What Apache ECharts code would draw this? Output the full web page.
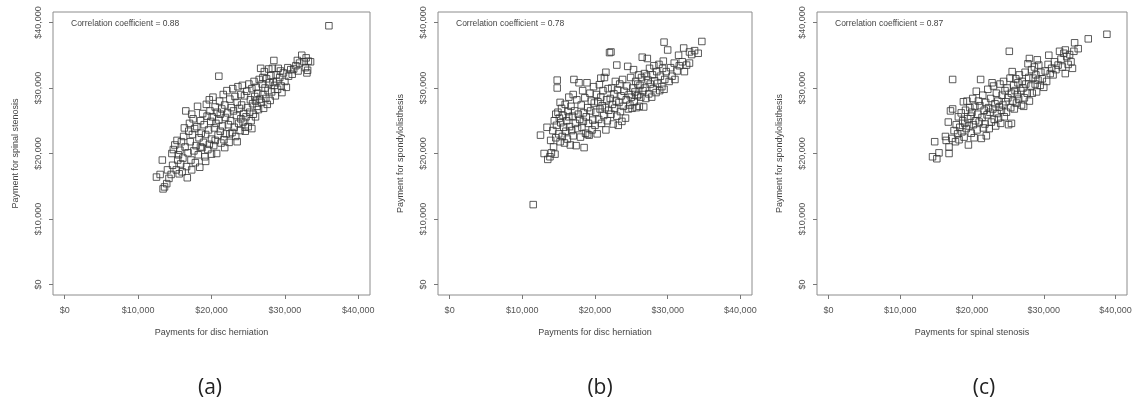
<!DOCTYPE html>
<html>
<head>
<meta charset="utf-8">
<script src="https://cdn.jsdelivr.net/npm/echarts@6/dist/echarts.min.js"></script>
<style>
  html, body { margin: 0; padding: 0; background: #fff; }
  #main { width: 1137px; height: 409px; }
</style>
</head>
<body>
<div id="main"></div>
<script>
// values in $ thousands
var tickValues = [0, 10, 20, 30, 40];
var panelLabels = ['(a)', '(b)', '(c)'];
var xTitles = ['Payments for disc herniation', 'Payments for disc herniation', 'Payments for spinal stenosis'];
var yTitles = ['Payment for spinal stenosis', 'Payment for spondylolisthesis', 'Payment for spondylolisthesis'];
var corrTexts = ['Correlation coefficient = 0.88', 'Correlation coefficient = 0.78', 'Correlation coefficient = 0.87'];

// (a) disc herniation vs spinal stenosis
var pointsA = [
  [12.5,16.4],[13.0,16.8],[13.4,14.6],[13.6,14.9],[13.3,19.0],[13.9,15.4],[14.2,16.2],[14.0,17.5],
  [14.5,16.8],[14.7,18.2],[14.8,20.6],[15.0,21.3],[15.2,17.5],[15.4,19.0],[15.5,19.8],[15.6,16.9],[15.8,18.4],[15.9,21.8],[15.3,22.0],[14.6,20.0],[15.7,20.5],
  [16.0,17.2],[16.1,19.3],[16.2,22.6],[16.4,21.0],[16.5,26.5],[16.6,18.0],[16.7,16.3],[16.8,20.1],[16.9,23.4],[17.0,24.6],[17.1,21.8],[17.2,19.0],[17.3,17.5],[17.4,22.9],[17.5,25.3],[17.6,20.4],[17.7,23.8],[17.8,18.6],[17.9,21.2],[18.0,24.1],[17.3,26.0],[16.3,23.9],
  [18.1,27.2],[18.2,19.8],[18.3,22.4],[18.4,17.9],[18.5,25.0],[18.6,23.1],[18.7,20.9],[18.8,26.1],[18.9,21.7],[19.0,24.4],[19.1,19.5],[19.2,22.9],[19.3,27.5],[19.4,25.7],[19.5,20.6],[19.6,23.6],[19.7,21.4],[19.8,26.5],[19.9,24.9],[20.0,22.2],[19.2,18.8],[18.5,21.0],[19.7,28.2],[20.0,19.9],
  [20.1,25.6],[20.2,28.6],[20.3,21.2],[20.4,23.9],[20.5,27.1],[20.6,24.6],[20.7,20.0],[20.8,26.3],[20.9,22.8],[21.0,31.8],[21.0,25.1],[21.1,28.0],[21.2,23.4],[21.3,21.6],[21.4,26.8],[21.5,24.2],[21.6,29.0],[21.7,22.1],[21.8,27.4],[21.9,25.5],[22.0,23.0],[21.2,26.0],[20.5,22.0],[21.8,20.9],
  [22.1,29.6],[22.2,26.2],[22.3,24.4],[22.4,21.7],[22.5,28.3],[22.6,25.0],[22.7,27.0],[22.8,23.2],[22.9,29.9],[23.0,26.5],[23.1,24.0],[23.2,28.7],[23.3,22.6],[23.4,25.8],[23.5,27.8],[23.6,30.2],[23.7,24.6],[23.8,26.9],[23.9,23.5],[24.0,29.0],[22.5,23.0],[23.5,21.8],[24.0,25.3],
  [24.1,27.4],[24.2,30.4],[24.3,24.8],[24.4,26.1],[24.5,28.8],[24.6,23.4],[24.7,25.6],[24.8,29.5],[24.9,27.0],[25.0,24.1],[25.1,30.6],[25.2,26.3],[25.3,28.2],[25.4,25.0],[25.5,29.9],[25.6,27.6],[25.7,26.0],[25.8,31.0],[25.9,28.7],[26.0,25.6],[24.6,24.0],[25.5,23.8],
  [26.1,30.1],[26.2,27.2],[26.3,29.2],[26.4,26.7],[26.5,31.3],[26.6,28.3],[26.7,33.0],[26.8,27.8],[26.9,30.6],[27.0,29.0],[27.1,26.9],[27.2,32.5],[27.3,30.0],[27.4,28.4],[27.5,31.4],[27.6,27.5],[27.7,29.6],[27.8,32.9],[27.9,30.8],[28.0,28.1],[26.0,28.0],[27.0,31.6],
  [28.1,31.9],[28.2,29.4],[28.3,33.0],[28.5,34.2],[28.6,30.4],[28.7,28.8],[28.8,32.0],[28.9,31.0],[29.0,29.8],[29.1,33.0],[29.3,31.6],[29.5,30.3],[29.6,29.3],[29.8,32.3],[30.0,31.0],[29.4,32.6],[28.4,30.9],
  [30.2,30.1],[30.5,31.8],[30.8,32.8],[31.0,32.1],[31.2,32.9],[31.5,33.4],[31.8,32.6],[32.0,33.8],[32.3,35.0],[32.6,34.0],[32.8,33.1],[33.0,32.3],[33.2,34.1],[33.5,34.0],[32.9,34.6],[33.1,32.7],[31.7,34.2],[30.4,33.1],
  [36.0,39.5]
];

// (b) disc herniation vs spondylolisthesis
var pointsB = [
  [11.5,12.2],[12.5,22.8],[13.0,20.0],[13.5,19.1],[13.8,19.5],[14.0,20.1],[13.4,24.0],[13.9,22.0],[14.5,19.9],[14.3,21.0],
  [14.2,23.5],[14.4,25.0],[14.6,22.4],[14.7,24.3],[14.8,31.2],[14.8,30.0],[14.9,26.3],[15.0,23.0],[15.1,25.4],[15.2,21.8],[15.3,24.7],[15.4,26.9],[15.5,22.6],[15.6,25.8],[15.7,24.0],[15.8,21.6],[15.9,27.5],[16.0,23.4],[15.2,27.8],[14.6,26.0],
  [16.1,25.0],[16.2,22.2],[16.3,26.4],[16.4,28.6],[16.5,24.1],[16.6,21.3],[16.7,27.2],[16.8,23.5],[16.9,25.7],[17.0,22.7],[17.1,31.3],[17.2,26.5],[17.3,24.6],[17.4,21.2],[17.5,28.2],[17.6,23.8],[17.7,26.0],[17.8,30.8],[17.9,25.2],[18.0,22.5],[17.0,29.0],[16.4,25.6],
  [18.1,27.4],[18.2,24.0],[18.3,29.6],[18.4,26.2],[18.5,20.9],[18.6,28.5],[18.7,23.1],[18.8,25.6],[18.9,30.8],[19.0,27.0],[19.1,24.6],[19.2,22.8],[19.3,29.2],[19.4,26.5],[19.5,28.0],[19.6,23.6],[19.7,25.1],[19.8,30.2],[19.9,27.7],[20.0,24.3],[19.0,22.9],[18.4,24.9],
  [20.1,26.3],[20.2,29.0],[20.3,23.0],[20.4,27.9],[20.5,25.2],[20.6,30.5],[20.7,26.8],[20.8,28.6],[20.9,24.6],[21.0,27.3],[21.1,29.6],[21.2,25.8],[21.3,31.6],[21.4,27.0],[21.5,32.4],[21.6,28.2],[21.7,25.0],[21.8,29.9],[21.9,26.6],[22.0,35.4],[22.2,35.5],[20.8,31.5],[21.5,23.6],
  [22.1,28.4],[22.2,26.0],[22.3,30.0],[22.4,27.5],[22.5,24.5],[22.6,29.1],[22.7,26.9],[22.8,31.0],[22.9,28.0],[23.0,33.5],[23.0,25.7],[23.1,29.7],[23.2,24.3],[23.3,27.8],[23.4,30.6],[23.5,26.4],[23.6,28.8],[23.7,24.9],[23.8,31.3],[23.9,27.2],[24.0,29.5],[24.2,25.4],
  [24.3,28.2],[24.5,33.3],[24.4,30.3],[24.6,26.8],[24.7,29.0],[24.8,27.4],[24.9,31.6],[25.0,28.6],[25.1,26.9],[25.2,30.0],[25.3,32.8],[25.4,27.9],[25.5,29.4],[25.6,31.0],[25.7,27.0],[25.8,28.8],[25.9,30.6],[26.0,29.0],[26.0,32.0],
  [26.1,27.2],[26.2,30.4],[26.3,28.6],[26.4,31.6],[26.5,34.7],[26.6,29.6],[26.7,27.1],[26.8,32.2],[26.9,30.0],[27.0,28.4],[27.2,34.5],[27.3,31.2],[27.4,29.1],[27.5,33.0],[27.6,30.6],[27.8,28.6],[27.9,32.0],[28.0,29.9],[27.1,31.8],
  [28.1,33.4],[28.2,31.1],[28.4,29.3],[28.5,32.5],[28.6,30.7],[28.8,33.6],[28.9,29.6],[29.0,31.8],[29.2,30.2],[29.3,33.0],[29.5,37.0],[29.5,29.8],[29.6,31.3],[29.8,32.5],[30.0,35.8],[29.4,34.1],
  [30.2,31.0],[30.4,33.1],[30.6,31.8],[30.9,33.8],[31.0,31.3],[31.3,32.6],[31.6,33.4],[32.0,34.0],[32.2,36.1],[32.3,32.5],[32.6,33.5],[33.0,35.5],[33.0,33.8],[33.3,35.1],[33.7,35.7],[34.2,35.3],[34.7,37.1],[31.5,35.0]
];

// (c) spinal stenosis vs spondylolisthesis
var pointsC = [
  [14.5,19.5],[15.1,19.2],[15.4,20.1],[14.8,21.8],[16.3,22.6],[16.4,22.0],[16.8,20.0],[16.8,21.0],[16.7,24.8],[17.0,26.5],[17.3,26.8],[17.3,31.3],
  [17.2,22.3],[17.5,23.5],[17.7,21.8],[17.8,24.4],[18.0,23.0],[18.1,25.6],[18.2,22.1],[18.3,24.0],[18.5,26.2],[18.6,23.3],[18.7,25.0],[18.8,27.9],[18.9,22.5],[19.0,24.6],[19.1,26.6],[19.2,23.8],[19.3,28.0],[19.4,25.3],[19.5,21.3],[19.6,24.2],[19.7,27.0],
  [19.8,25.7],[19.9,23.1],[20.0,26.3],[20.1,28.4],[20.2,24.4],[20.3,22.4],[20.4,27.2],[20.5,25.0],[20.6,29.5],[20.7,23.6],[20.8,26.0],[20.9,28.0],[21.0,24.8],[21.2,31.3],[21.1,27.3],[21.3,22.3],[21.4,25.5],[21.5,28.9],[21.6,23.9],[21.7,26.6],[21.8,24.5],[21.9,27.8],[22.0,22.7],
  [22.1,25.9],[22.2,29.8],[22.3,27.0],[22.4,23.8],[22.5,26.3],[22.6,28.4],[22.7,24.8],[22.8,30.8],[22.9,26.8],[23.0,30.3],[23.1,25.2],[23.2,27.6],[23.3,24.2],[23.4,29.2],[23.5,26.1],[23.6,28.0],[23.7,25.4],[23.8,27.1],[23.9,30.6],[24.0,24.6],
  [24.1,26.6],[24.2,28.9],[24.3,27.4],[24.4,31.0],[24.5,25.6],[24.6,29.6],[24.7,27.9],[24.8,26.3],[24.9,30.0],[25.0,28.5],[25.1,24.4],[25.2,35.6],[25.3,31.5],[25.4,27.0],[25.5,29.2],[25.6,32.5],[25.7,28.0],[25.8,30.4],[25.9,26.8],[26.0,29.6],[25.5,24.6],
  [26.1,31.4],[26.2,27.7],[26.3,29.0],[26.4,30.8],[26.5,28.3],[26.6,32.0],[26.8,29.6],[26.9,27.4],[27.0,31.0],[27.1,30.0],[27.3,28.5],[27.4,32.4],[27.5,30.6],[27.7,29.2],[27.8,33.7],[27.9,31.6],[28.0,34.5],[28.0,28.0],[27.2,27.2],
  [28.2,30.3],[28.3,32.8],[28.4,29.2],[28.5,31.5],[28.7,33.2],[28.8,30.6],[28.9,32.0],[29.0,29.4],[29.2,31.2],[29.3,33.5],[29.5,30.4],[29.6,32.4],[29.8,31.4],[30.0,30.1],[29.1,34.3],
  [30.2,32.6],[30.4,31.0],[30.6,33.6],[30.7,35.0],[30.9,32.2],[31.1,33.0],[31.3,32.0],[31.5,34.0],[31.7,32.8],[32.0,33.5],[32.2,35.6],[32.4,34.4],[32.6,33.2],[32.8,35.3],[33.0,32.2],[33.2,34.8],[33.4,33.6],[33.6,35.1],[33.8,34.0],[34.0,33.0],[34.2,35.6],[34.3,36.9],[34.8,36.0],[33.0,35.8],
  [36.2,37.5],[38.8,38.2]
];

var allPoints = [pointsA, pointsB, pointsC];

// box position of each panel (pixels)
var boxes = [
  {left: 53, width: 317},
  {left: 438, width: 314},
  {left: 817, width: 310}
];
var labelCenters = [210, 600, 984];

function money(v) {
  return v === 0 ? '$0' : '$' + v + ',000';
}

var grids = [], xAxes = [], yAxes = [], series = [], titles = [], graphics = [];
for (var i = 0; i < 3; i++) {
  grids.push({
    left: boxes[i].left, width: boxes[i].width, top: 12, height: 283,
    show: true, borderColor: '#8c8c8c', borderWidth: 1, backgroundColor: 'transparent'
  });
  xAxes.push({
    gridIndex: i, type: 'value', min: -1.6, max: 41.6,
    name: xTitles[i], nameLocation: 'middle', nameGap: 33,
    nameTextStyle: {fontSize: 9, color: '#444', fontFamily: 'Liberation Sans'},
    axisLine: {show: false, onZero: false},
    axisTick: {show: true, inside: false, length: 4, customValues: tickValues, lineStyle: {color: '#777'}},
    axisLabel: {customValues: tickValues, formatter: money, fontSize: 9, color: '#555', margin: 11, fontFamily: 'Liberation Sans'},
    splitLine: {show: false}
  });
  yAxes.push({
    gridIndex: i, type: 'value', min: -1.6, max: 41.6,
    name: yTitles[i], nameLocation: 'middle', nameGap: 33,
    nameTextStyle: {fontSize: 9, color: '#444', fontFamily: 'Liberation Sans'},
    axisLine: {show: false, onZero: false},
    axisTick: {show: true, inside: false, length: 4, customValues: tickValues, lineStyle: {color: '#777'}},
    axisLabel: {customValues: tickValues, formatter: money, fontSize: 9, color: '#555', margin: 10, rotate: 90, fontFamily: 'Liberation Sans'},
    splitLine: {show: false}
  });
  series.push({
    type: 'scatter', xAxisIndex: i, yAxisIndex: i,
    data: allPoints[i],
    symbol: 'rect', symbolSize: 6.5,
    itemStyle: {color: 'transparent', borderColor: '#333', borderWidth: 1},
    silent: true
  });
  titles.push({
    text: corrTexts[i], left: boxes[i].left + 18, top: 19, padding: 0,
    textStyle: {fontSize: 8.5, fontWeight: 'normal', color: '#444', fontFamily: 'Liberation Sans'}
  });
  graphics.push({
    type: 'text', x: labelCenters[i], y: 388,
    style: {text: panelLabels[i], fontSize: 21, fill: '#222', fontFamily: 'Open Sans',
            align: 'center', verticalAlign: 'middle'}
  });
}

var myChart = echarts.init(document.getElementById('main'), null, {renderer: 'canvas'});
myChart.setOption({
  backgroundColor: '#fff',
  animation: false,
  title: titles,
  grid: grids,
  xAxis: xAxes,
  yAxis: yAxes,
  series: series,
  graphic: graphics
});
</script>
</body>
</html>
